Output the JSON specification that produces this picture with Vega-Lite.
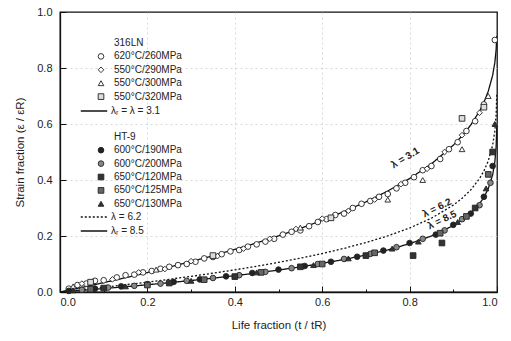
{
  "$schema": "https://vega.github.io/schema/vega-lite/v6.json",
  "width": 437,
  "height": 280,
  "autosize": {"type": "none"},
  "padding": {"left": 60, "top": 12, "right": 14, "bottom": 49},
  "background": "white",
  "config": {
    "view": {"stroke": "#111", "strokeWidth": 1.3},
    "font": "Liberation Sans",
    "axis": {
      "labelFont": "Liberation Sans", "labelFontSize": 11, "labelColor": "#222",
      "titleFont": "Liberation Sans", "titleFontSize": 11.5, "titleFontWeight": "normal", "titleColor": "#222",
      "domainColor": "#111", "domainWidth": 1.3, "tickColor": "#111", "tickWidth": 1,
      "gridColor": "#c8c8c8", "gridDash": [2, 3], "gridWidth": 0.7
    },
    "legend": {"labelFont": "Liberation Sans", "labelFontSize": 10, "labelColor": "#222", "padding": 0}
  },
  "resolve": {"scale": {"strokeDash": "independent"}, "legend": {"strokeDash": "independent"}},
  "datasets": {
    "pts": [
      {"series": "620°C/260MPa", "x": 0.02, "y": 0.012}, {"series": "620°C/260MPa", "x": 0.04, "y": 0.025},
      {"series": "620°C/260MPa", "x": 0.06, "y": 0.03}, {"series": "620°C/260MPa", "x": 0.08, "y": 0.04},
      {"series": "620°C/260MPa", "x": 0.10, "y": 0.042}, {"series": "620°C/260MPa", "x": 0.13, "y": 0.052},
      {"series": "620°C/260MPa", "x": 0.15, "y": 0.06}, {"series": "620°C/260MPa", "x": 0.17, "y": 0.062},
      {"series": "620°C/260MPa", "x": 0.19, "y": 0.07}, {"series": "620°C/260MPa", "x": 0.21, "y": 0.075},
      {"series": "620°C/260MPa", "x": 0.23, "y": 0.083}, {"series": "620°C/260MPa", "x": 0.25, "y": 0.09},
      {"series": "620°C/260MPa", "x": 0.27, "y": 0.096}, {"series": "620°C/260MPa", "x": 0.29, "y": 0.10},
      {"series": "620°C/260MPa", "x": 0.31, "y": 0.108}, {"series": "620°C/260MPa", "x": 0.33, "y": 0.12},
      {"series": "620°C/260MPa", "x": 0.35, "y": 0.125}, {"series": "620°C/260MPa", "x": 0.37, "y": 0.135},
      {"series": "620°C/260MPa", "x": 0.39, "y": 0.145}, {"series": "620°C/260MPa", "x": 0.41, "y": 0.15},
      {"series": "620°C/260MPa", "x": 0.43, "y": 0.162}, {"series": "620°C/260MPa", "x": 0.45, "y": 0.17},
      {"series": "620°C/260MPa", "x": 0.47, "y": 0.18}, {"series": "620°C/260MPa", "x": 0.49, "y": 0.19},
      {"series": "620°C/260MPa", "x": 0.51, "y": 0.205}, {"series": "620°C/260MPa", "x": 0.53, "y": 0.215},
      {"series": "620°C/260MPa", "x": 0.55, "y": 0.22}, {"series": "620°C/260MPa", "x": 0.57, "y": 0.235},
      {"series": "620°C/260MPa", "x": 0.59, "y": 0.25}, {"series": "620°C/260MPa", "x": 0.61, "y": 0.26},
      {"series": "620°C/260MPa", "x": 0.63, "y": 0.275}, {"series": "620°C/260MPa", "x": 0.65, "y": 0.28},
      {"series": "620°C/260MPa", "x": 0.67, "y": 0.30}, {"series": "620°C/260MPa", "x": 0.69, "y": 0.315},
      {"series": "620°C/260MPa", "x": 0.71, "y": 0.325}, {"series": "620°C/260MPa", "x": 0.73, "y": 0.34},
      {"series": "620°C/260MPa", "x": 0.75, "y": 0.35}, {"series": "620°C/260MPa", "x": 0.77, "y": 0.37},
      {"series": "620°C/260MPa", "x": 0.79, "y": 0.39}, {"series": "620°C/260MPa", "x": 0.81, "y": 0.41},
      {"series": "620°C/260MPa", "x": 0.83, "y": 0.435}, {"series": "620°C/260MPa", "x": 0.85, "y": 0.45},
      {"series": "620°C/260MPa", "x": 0.87, "y": 0.475}, {"series": "620°C/260MPa", "x": 0.89, "y": 0.51},
      {"series": "620°C/260MPa", "x": 0.91, "y": 0.535}, {"series": "620°C/260MPa", "x": 0.93, "y": 0.575},
      {"series": "620°C/260MPa", "x": 0.95, "y": 0.61}, {"series": "620°C/260MPa", "x": 0.97, "y": 0.67},
      {"series": "620°C/260MPa", "x": 0.995, "y": 0.90},
      {"series": "550°C/290MPa", "x": 0.05, "y": 0.03}, {"series": "550°C/290MPa", "x": 0.12, "y": 0.045},
      {"series": "550°C/290MPa", "x": 0.18, "y": 0.07}, {"series": "550°C/290MPa", "x": 0.24, "y": 0.082},
      {"series": "550°C/290MPa", "x": 0.30, "y": 0.11}, {"series": "550°C/290MPa", "x": 0.36, "y": 0.128},
      {"series": "550°C/290MPa", "x": 0.42, "y": 0.155}, {"series": "550°C/290MPa", "x": 0.48, "y": 0.19},
      {"series": "550°C/290MPa", "x": 0.54, "y": 0.225}, {"series": "550°C/290MPa", "x": 0.60, "y": 0.262},
      {"series": "550°C/290MPa", "x": 0.66, "y": 0.29}, {"series": "550°C/290MPa", "x": 0.72, "y": 0.33},
      {"series": "550°C/290MPa", "x": 0.78, "y": 0.385}, {"series": "550°C/290MPa", "x": 0.84, "y": 0.44},
      {"series": "550°C/290MPa", "x": 0.88, "y": 0.5}, {"series": "550°C/290MPa", "x": 0.92, "y": 0.56},
      {"series": "550°C/290MPa", "x": 0.96, "y": 0.64},
      {"series": "550°C/300MPa", "x": 0.03, "y": 0.02}, {"series": "550°C/300MPa", "x": 0.22, "y": 0.08},
      {"series": "550°C/300MPa", "x": 0.55, "y": 0.23}, {"series": "550°C/300MPa", "x": 0.75, "y": 0.33},
      {"series": "550°C/300MPa", "x": 0.83, "y": 0.40}, {"series": "550°C/300MPa", "x": 0.92, "y": 0.51},
      {"series": "550°C/300MPa", "x": 0.98, "y": 0.70},
      {"series": "550°C/320MPa", "x": 0.07, "y": 0.035}, {"series": "550°C/320MPa", "x": 0.35, "y": 0.13},
      {"series": "550°C/320MPa", "x": 0.62, "y": 0.265}, {"series": "550°C/320MPa", "x": 0.92, "y": 0.62},
      {"series": "550°C/320MPa", "x": 0.97, "y": 0.66},
      {"series": "600°C/190MPa", "x": 0.02, "y": 0.004}, {"series": "600°C/190MPa", "x": 0.08, "y": 0.012},
      {"series": "600°C/190MPa", "x": 0.14, "y": 0.02}, {"series": "600°C/190MPa", "x": 0.20, "y": 0.028},
      {"series": "600°C/190MPa", "x": 0.26, "y": 0.036}, {"series": "600°C/190MPa", "x": 0.32, "y": 0.045},
      {"series": "600°C/190MPa", "x": 0.38, "y": 0.056}, {"series": "600°C/190MPa", "x": 0.44, "y": 0.068},
      {"series": "600°C/190MPa", "x": 0.50, "y": 0.08}, {"series": "600°C/190MPa", "x": 0.56, "y": 0.093},
      {"series": "600°C/190MPa", "x": 0.62, "y": 0.108}, {"series": "600°C/190MPa", "x": 0.68, "y": 0.126},
      {"series": "600°C/190MPa", "x": 0.74, "y": 0.148}, {"series": "600°C/190MPa", "x": 0.80, "y": 0.175},
      {"series": "600°C/190MPa", "x": 0.86, "y": 0.205}, {"series": "600°C/190MPa", "x": 0.90, "y": 0.24},
      {"series": "600°C/190MPa", "x": 0.94, "y": 0.28}, {"series": "600°C/190MPa", "x": 0.97, "y": 0.34},
      {"series": "600°C/190MPa", "x": 0.99, "y": 0.45},
      {"series": "600°C/200MPa", "x": 0.05, "y": 0.008}, {"series": "600°C/200MPa", "x": 0.11, "y": 0.016},
      {"series": "600°C/200MPa", "x": 0.17, "y": 0.022}, {"series": "600°C/200MPa", "x": 0.23, "y": 0.03},
      {"series": "600°C/200MPa", "x": 0.29, "y": 0.04}, {"series": "600°C/200MPa", "x": 0.35, "y": 0.05},
      {"series": "600°C/200MPa", "x": 0.41, "y": 0.06}, {"series": "600°C/200MPa", "x": 0.47, "y": 0.072},
      {"series": "600°C/200MPa", "x": 0.53, "y": 0.085}, {"series": "600°C/200MPa", "x": 0.59, "y": 0.10},
      {"series": "600°C/200MPa", "x": 0.65, "y": 0.118}, {"series": "600°C/200MPa", "x": 0.71, "y": 0.136},
      {"series": "600°C/200MPa", "x": 0.77, "y": 0.16}, {"series": "600°C/200MPa", "x": 0.83, "y": 0.19},
      {"series": "600°C/200MPa", "x": 0.88, "y": 0.22}, {"series": "600°C/200MPa", "x": 0.92, "y": 0.26},
      {"series": "600°C/200MPa", "x": 0.96, "y": 0.31}, {"series": "600°C/200MPa", "x": 0.985, "y": 0.39},
      {"series": "650°C/120MPa", "x": 0.10, "y": 0.014}, {"series": "650°C/120MPa", "x": 0.25, "y": 0.032},
      {"series": "650°C/120MPa", "x": 0.40, "y": 0.055}, {"series": "650°C/120MPa", "x": 0.55, "y": 0.09},
      {"series": "650°C/120MPa", "x": 0.70, "y": 0.13}, {"series": "650°C/120MPa", "x": 0.808, "y": 0.13},
      {"series": "650°C/120MPa", "x": 0.874, "y": 0.175}, {"series": "650°C/120MPa", "x": 0.95, "y": 0.30},
      {"series": "650°C/120MPa", "x": 0.99, "y": 0.50},
      {"series": "650°C/125MPa", "x": 0.07, "y": 0.01}, {"series": "650°C/125MPa", "x": 0.20, "y": 0.025},
      {"series": "650°C/125MPa", "x": 0.33, "y": 0.044}, {"series": "650°C/125MPa", "x": 0.46, "y": 0.07},
      {"series": "650°C/125MPa", "x": 0.60, "y": 0.10}, {"series": "650°C/125MPa", "x": 0.72, "y": 0.14},
      {"series": "650°C/125MPa", "x": 0.87, "y": 0.21}, {"series": "650°C/125MPa", "x": 0.93, "y": 0.27},
      {"series": "650°C/125MPa", "x": 0.98, "y": 0.42},
      {"series": "650°C/130MPa", "x": 0.03, "y": 0.006}, {"series": "650°C/130MPa", "x": 0.15, "y": 0.02},
      {"series": "650°C/130MPa", "x": 0.30, "y": 0.04}, {"series": "650°C/130MPa", "x": 0.45, "y": 0.07},
      {"series": "650°C/130MPa", "x": 0.58, "y": 0.096}, {"series": "650°C/130MPa", "x": 0.66, "y": 0.12},
      {"series": "650°C/130MPa", "x": 0.76, "y": 0.155}, {"series": "650°C/130MPa", "x": 0.82, "y": 0.18},
      {"series": "650°C/130MPa", "x": 0.91, "y": 0.25}, {"series": "650°C/130MPa", "x": 0.975, "y": 0.37},
      {"series": "650°C/130MPa", "x": 0.995, "y": 0.60}
    ],
    "curves": [
      {"curve": "λᵣ = λ = 3.1", "x": 0, "y": 0}, {"curve": "λᵣ = λ = 3.1", "x": 0.05, "y": 0.0164}, {"curve": "λᵣ = λ = 3.1", "x": 0.1, "y": 0.0334},
      {"curve": "λᵣ = λ = 3.1", "x": 0.15, "y": 0.0511}, {"curve": "λᵣ = λ = 3.1", "x": 0.2, "y": 0.0695}, {"curve": "λᵣ = λ = 3.1", "x": 0.25, "y": 0.0886},
      {"curve": "λᵣ = λ = 3.1", "x": 0.3, "y": 0.1087}, {"curve": "λᵣ = λ = 3.1", "x": 0.35, "y": 0.1297}, {"curve": "λᵣ = λ = 3.1", "x": 0.4, "y": 0.1519},
      {"curve": "λᵣ = λ = 3.1", "x": 0.45, "y": 0.1754}, {"curve": "λᵣ = λ = 3.1", "x": 0.5, "y": 0.2004}, {"curve": "λᵣ = λ = 3.1", "x": 0.55, "y": 0.2271},
      {"curve": "λᵣ = λ = 3.1", "x": 0.6, "y": 0.2559}, {"curve": "λᵣ = λ = 3.1", "x": 0.65, "y": 0.2873}, {"curve": "λᵣ = λ = 3.1", "x": 0.7, "y": 0.3218},
      {"curve": "λᵣ = λ = 3.1", "x": 0.75, "y": 0.3606}, {"curve": "λᵣ = λ = 3.1", "x": 0.8, "y": 0.405}, {"curve": "λᵣ = λ = 3.1", "x": 0.85, "y": 0.4577},
      {"curve": "λᵣ = λ = 3.1", "x": 0.9, "y": 0.5242}, {"curve": "λᵣ = λ = 3.1", "x": 0.92, "y": 0.5573}, {"curve": "λᵣ = λ = 3.1", "x": 0.94, "y": 0.5965},
      {"curve": "λᵣ = λ = 3.1", "x": 0.96, "y": 0.646}, {"curve": "λᵣ = λ = 3.1", "x": 0.97, "y": 0.6773}, {"curve": "λᵣ = λ = 3.1", "x": 0.98, "y": 0.7169},
      {"curve": "λᵣ = λ = 3.1", "x": 0.99, "y": 0.7736}, {"curve": "λᵣ = λ = 3.1", "x": 0.995, "y": 0.819}, {"curve": "λᵣ = λ = 3.1", "x": 0.998, "y": 0.8653},
      {"curve": "λᵣ = λ = 3.1", "x": 0.9995, "y": 0.9139},
      {"curve": "λ = 6.2", "x": 0, "y": 0}, {"curve": "λ = 6.2", "x": 0.05, "y": 0.0082}, {"curve": "λ = 6.2", "x": 0.1, "y": 0.0169},
      {"curve": "λ = 6.2", "x": 0.15, "y": 0.0259}, {"curve": "λ = 6.2", "x": 0.2, "y": 0.0354}, {"curve": "λ = 6.2", "x": 0.25, "y": 0.0453},
      {"curve": "λ = 6.2", "x": 0.3, "y": 0.0559}, {"curve": "λ = 6.2", "x": 0.35, "y": 0.0671}, {"curve": "λ = 6.2", "x": 0.4, "y": 0.0791},
      {"curve": "λ = 6.2", "x": 0.45, "y": 0.0919}, {"curve": "λ = 6.2", "x": 0.5, "y": 0.1058}, {"curve": "λ = 6.2", "x": 0.55, "y": 0.1208},
      {"curve": "λ = 6.2", "x": 0.6, "y": 0.1374}, {"curve": "λ = 6.2", "x": 0.65, "y": 0.1558}, {"curve": "λ = 6.2", "x": 0.7, "y": 0.1765},
      {"curve": "λ = 6.2", "x": 0.75, "y": 0.2004}, {"curve": "λ = 6.2", "x": 0.8, "y": 0.2286}, {"curve": "λ = 6.2", "x": 0.85, "y": 0.2636},
      {"curve": "λ = 6.2", "x": 0.9, "y": 0.3102}, {"curve": "λ = 6.2", "x": 0.92, "y": 0.3346}, {"curve": "λ = 6.2", "x": 0.94, "y": 0.3648},
      {"curve": "λ = 6.2", "x": 0.96, "y": 0.405}, {"curve": "λ = 6.2", "x": 0.97, "y": 0.432}, {"curve": "λ = 6.2", "x": 0.98, "y": 0.4679},
      {"curve": "λ = 6.2", "x": 0.99, "y": 0.5242}, {"curve": "λ = 6.2", "x": 0.995, "y": 0.5745}, {"curve": "λ = 6.2", "x": 0.998, "y": 0.633},
      {"curve": "λ = 6.2", "x": 0.9995, "y": 0.7065},
      {"curve": "λᵣ = 8.5", "x": 0, "y": 0}, {"curve": "λᵣ = 8.5", "x": 0.05, "y": 0.006}, {"curve": "λᵣ = 8.5", "x": 0.1, "y": 0.0123},
      {"curve": "λᵣ = 8.5", "x": 0.15, "y": 0.0189}, {"curve": "λᵣ = 8.5", "x": 0.2, "y": 0.0259}, {"curve": "λᵣ = 8.5", "x": 0.25, "y": 0.0333},
      {"curve": "λᵣ = 8.5", "x": 0.3, "y": 0.0411}, {"curve": "λᵣ = 8.5", "x": 0.35, "y": 0.0494}, {"curve": "λᵣ = 8.5", "x": 0.4, "y": 0.0583},
      {"curve": "λᵣ = 8.5", "x": 0.45, "y": 0.0679}, {"curve": "λᵣ = 8.5", "x": 0.5, "y": 0.0783}, {"curve": "λᵣ = 8.5", "x": 0.55, "y": 0.0897},
      {"curve": "λᵣ = 8.5", "x": 0.6, "y": 0.1022}, {"curve": "λᵣ = 8.5", "x": 0.65, "y": 0.1162}, {"curve": "λᵣ = 8.5", "x": 0.7, "y": 0.1321},
      {"curve": "λᵣ = 8.5", "x": 0.75, "y": 0.1505}, {"curve": "λᵣ = 8.5", "x": 0.8, "y": 0.1725}, {"curve": "λᵣ = 8.5", "x": 0.85, "y": 0.2},
      {"curve": "λᵣ = 8.5", "x": 0.9, "y": 0.2373}, {"curve": "λᵣ = 8.5", "x": 0.92, "y": 0.2571}, {"curve": "λᵣ = 8.5", "x": 0.94, "y": 0.2818},
      {"curve": "λᵣ = 8.5", "x": 0.96, "y": 0.3153}, {"curve": "λᵣ = 8.5", "x": 0.97, "y": 0.338}, {"curve": "λᵣ = 8.5", "x": 0.98, "y": 0.3689},
      {"curve": "λᵣ = 8.5", "x": 0.99, "y": 0.4183}, {"curve": "λᵣ = 8.5", "x": 0.995, "y": 0.4639}, {"curve": "λᵣ = 8.5", "x": 0.998, "y": 0.5186},
      {"curve": "λᵣ = 8.5", "x": 0.9995, "y": 0.5911}
    ],
    "notes31": [{"text": "λ = 3.1", "x": 0.79, "y": 0.479}],
    "notesLow": [{"text": "λ = 6.2", "x": 0.863, "y": 0.30}, {"text": "λ = 8.5", "x": 0.874, "y": 0.257}]
  },
  "layer": [
    {
      "data": {"name": "curves"},
      "transform": [{"filter": "datum.curve === 'λᵣ = λ = 3.1'"}],
      "mark": {"type": "line", "color": "#111", "strokeWidth": 1.3, "clip": true},
      "encoding": {
        "x": {"field": "x", "type": "quantitative", "scale": {"domain": [0, 1], "nice": false},
          "axis": {
            "title": "Life fraction (t / tR)", "values": [0, 0.1, 0.2, 0.3, 0.4, 0.5, 0.6, 0.7, 0.8, 0.9, 1],
            "format": ".1f", "labelExpr": "round(datum.value*10)%2===0 ? datum.label : ''",
            "tickSize": {"condition": {"test": "round(datum.value*10)%2===0", "value": -6}, "value": -3},
            "gridOpacity": {"condition": {"test": "round(datum.value*10)%2===1 || datum.value===0 || datum.value===1", "value": 0}, "value": 1},
            "labelPadding": 10, "titlePadding": 12
          }},
        "y": {"field": "y", "type": "quantitative", "scale": {"domain": [0, 1], "nice": false},
          "axis": {
            "title": "Strain fraction (ε / εR)", "values": [0, 0.1, 0.2, 0.3, 0.4, 0.5, 0.6, 0.7, 0.8, 0.9, 1],
            "format": ".1f", "labelExpr": "round(datum.value*10)%2===0 ? datum.label : ''",
            "tickSize": {"condition": {"test": "round(datum.value*10)%2===0", "value": -6}, "value": -3},
            "gridOpacity": {"condition": {"test": "round(datum.value*10)%2===1 || datum.value===0 || datum.value===1", "value": 0}, "value": 1},
            "labelPadding": 14, "titlePadding": 11
          }},
        "strokeDash": {"field": "curve", "type": "nominal", "scale": {"domain": ["λᵣ = λ = 3.1"], "range": [[1, 0]]},
          "legend": {"title": null, "orient": "none", "legendX": 20, "legendY": 85, "symbolType": "stroke", "symbolSize": 700, "symbolStrokeWidth": 1.3, "symbolStrokeColor": "#111", "labelOffset": 3}}
      }
    },
    {
      "data": {"name": "curves"},
      "transform": [{"filter": "datum.curve === 'λ = 6.2'"}],
      "mark": {"type": "line", "color": "#111", "strokeWidth": 1.3, "clip": true},
      "encoding": {
        "x": {"field": "x", "type": "quantitative"},
        "y": {"field": "y", "type": "quantitative"},
        "strokeDash": {"field": "curve", "type": "nominal", "scale": {"domain": ["λ = 6.2"], "range": [[2, 2]]},
          "legend": {"title": null, "orient": "none", "legendX": 20, "legendY": 191, "symbolType": "stroke", "symbolSize": 700, "symbolStrokeWidth": 1.3, "symbolStrokeColor": "#111", "labelOffset": 3}}
      }
    },
    {
      "data": {"name": "curves"},
      "transform": [{"filter": "datum.curve === 'λᵣ = 8.5'"}],
      "mark": {"type": "line", "color": "#111", "strokeWidth": 1.3, "clip": true},
      "encoding": {
        "x": {"field": "x", "type": "quantitative"},
        "y": {"field": "y", "type": "quantitative"},
        "strokeDash": {"field": "curve", "type": "nominal", "scale": {"domain": ["λᵣ = 8.5"], "range": [[1, 0]]},
          "legend": {"title": null, "orient": "none", "legendX": 20, "legendY": 205, "symbolType": "stroke", "symbolSize": 700, "symbolStrokeWidth": 1.3, "symbolStrokeColor": "#111", "labelOffset": 3}}
      }
    },
    {
      "data": {"name": "pts"},
      "mark": {"type": "point", "opacity": 1, "size": 32, "strokeWidth": 0.9},
      "encoding": {
        "x": {"field": "x", "type": "quantitative"},
        "y": {"field": "y", "type": "quantitative"},
        "shape": {
          "field": "series", "type": "nominal",
          "scale": {
            "domain": ["316LN", "620°C/260MPa", "550°C/290MPa", "550°C/300MPa", "550°C/320MPa", " ", "  ", "HT-9", "600°C/190MPa", "600°C/200MPa", "650°C/120MPa", "650°C/125MPa", "650°C/130MPa"],
            "range": ["circle", "circle", "diamond", "triangle-up", "square", "circle", "circle", "circle", "circle", "circle", "square", "square", "triangle-up"]
          },
          "legend": {"title": null, "orient": "none", "legendX": 36, "legendY": 26, "rowPadding": 3.4, "labelOffset": 8, "symbolSize": 32, "symbolStrokeWidth": 0.9}
        },
        "fill": {
          "field": "series", "type": "nominal",
          "scale": {
            "domain": ["316LN", "620°C/260MPa", "550°C/290MPa", "550°C/300MPa", "550°C/320MPa", " ", "  ", "HT-9", "600°C/190MPa", "600°C/200MPa", "650°C/120MPa", "650°C/125MPa", "650°C/130MPa"],
            "range": ["transparent", "white", "white", "white", "#ddd", "transparent", "transparent", "transparent", "#222", "#888", "#333", "#666", "#333"]
          },
          "legend": {"title": null, "orient": "none", "legendX": 36, "legendY": 26, "rowPadding": 3.4, "labelOffset": 8, "symbolSize": 32, "symbolStrokeWidth": 0.9}
        },
        "stroke": {
          "field": "series", "type": "nominal",
          "scale": {
            "domain": ["316LN", "620°C/260MPa", "550°C/290MPa", "550°C/300MPa", "550°C/320MPa", " ", "  ", "HT-9", "600°C/190MPa", "600°C/200MPa", "650°C/120MPa", "650°C/125MPa", "650°C/130MPa"],
            "range": ["transparent", "#222", "#222", "#222", "#222", "transparent", "transparent", "transparent", "#222", "#222", "#222", "#222", "#222"]
          },
          "legend": {"title": null, "orient": "none", "legendX": 36, "legendY": 26, "rowPadding": 3.4, "labelOffset": 8, "symbolSize": 32, "symbolStrokeWidth": 0.9}
        }
      }
    },
    {
      "data": {"name": "notes31"},
      "mark": {"type": "text", "angle": -31, "font": "Liberation Sans", "fontSize": 10, "fontWeight": "bold", "color": "#222"},
      "encoding": {
        "x": {"field": "x", "type": "quantitative"},
        "y": {"field": "y", "type": "quantitative"},
        "text": {"field": "text"}
      }
    },
    {
      "data": {"name": "notesLow"},
      "mark": {"type": "text", "angle": -26, "font": "Liberation Sans", "fontSize": 10, "fontWeight": "bold", "color": "#222"},
      "encoding": {
        "x": {"field": "x", "type": "quantitative"},
        "y": {"field": "y", "type": "quantitative"},
        "text": {"field": "text"}
      }
    }
  ]
}
